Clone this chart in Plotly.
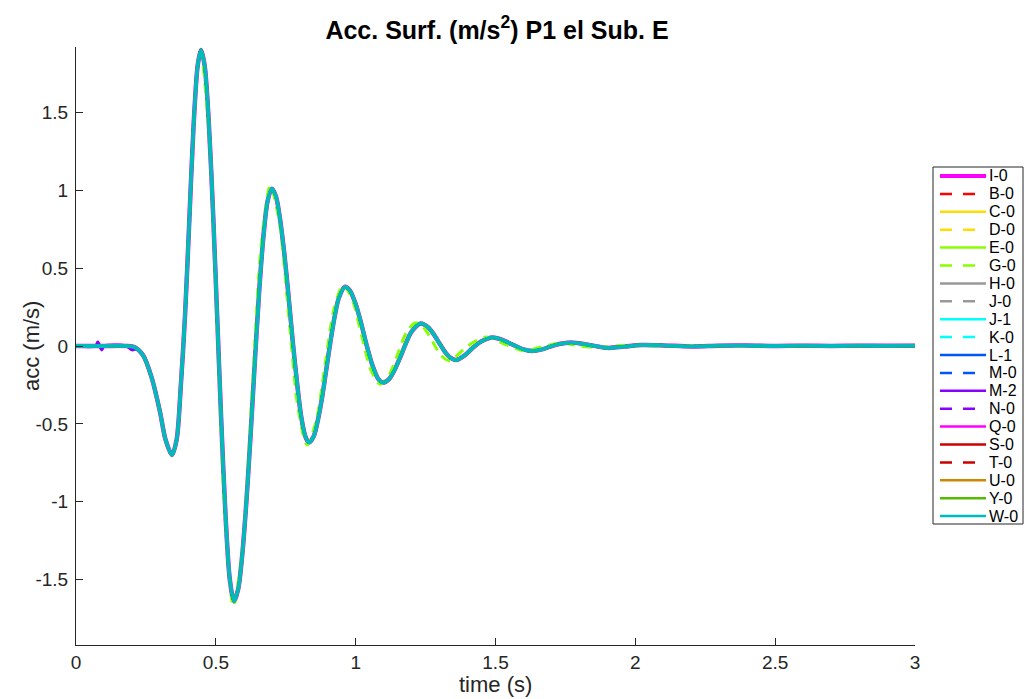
import plotly.graph_objects as go

# ---------------- data ----------------
t_main = [0.00, 0.10, 0.18, 0.21, 0.24, 0.27, 0.30, 0.32, 0.343, 0.36, 0.375, 0.39,
          0.405, 0.42, 0.435, 0.447, 0.46, 0.475, 0.49, 0.505, 0.52, 0.535, 0.55,
          0.565, 0.58, 0.595, 0.61, 0.625, 0.64, 0.655, 0.67, 0.685, 0.70, 0.715,
          0.73, 0.745, 0.76, 0.775, 0.79, 0.805, 0.82, 0.833, 0.85, 0.865, 0.88,
          0.895, 0.91, 0.925, 0.94, 0.962, 0.98, 1.00, 1.02, 1.04, 1.06, 1.08,
          1.098, 1.12, 1.14, 1.16, 1.18, 1.20, 1.233, 1.26, 1.28, 1.30, 1.32,
          1.34, 1.359, 1.39, 1.42, 1.45, 1.49, 1.52, 1.56, 1.60, 1.63, 1.67,
          1.71, 1.77, 1.83, 1.90, 1.96, 2.02, 2.10, 2.20, 2.30, 2.40, 2.50,
          2.60, 2.70, 2.80, 2.90, 3.00]
acc_main = [0.0, 0.0, 0.0, -0.008, -0.06, -0.20, -0.42, -0.60, -0.70, -0.60, -0.25, 0.20,
            0.80, 1.40, 1.80, 1.90, 1.80, 1.43, 0.86, 0.18, -0.51, -1.10, -1.50,
            -1.64, -1.56, -1.33, -0.98, -0.55, -0.085, 0.35, 0.70, 0.93, 1.01, 0.96,
            0.81, 0.59, 0.32, 0.03, -0.23, -0.45, -0.58, -0.62, -0.58, -0.475, -0.33,
            -0.15, 0.03, 0.19, 0.31, 0.38, 0.354, 0.269, 0.143, 0.0, -0.124, -0.209,
            -0.235, -0.211, -0.151, -0.069, 0.018, 0.092, 0.145, 0.119, 0.073, 0.016, -0.039,
            -0.077, -0.09, -0.06, -0.01, 0.03, 0.055, 0.042, 0.01, -0.022, -0.032, -0.02,
            0.005, 0.022, 0.008, -0.012, -0.004, 0.006, 0.004, -0.003, 0.002, 0.003, 0.0,
            0.002, 0.0, 0.002, 0.001, 0.002]

t_g0 = [0.00, 0.10, 0.18, 0.21, 0.24, 0.27, 0.30, 0.32, 0.343, 0.36, 0.375, 0.39,
        0.405, 0.42, 0.435, 0.446, 0.475, 0.5045, 0.534, 0.563, 0.596, 0.629, 0.662,
        0.695, 0.7278, 0.7605, 0.7933, 0.826, 0.8583, 0.8905, 0.9228, 0.955, 0.988,
        1.021, 1.054, 1.087, 1.119, 1.151, 1.183, 1.215, 1.245, 1.275, 1.305,
        1.335, 1.40, 1.465, 1.53, 1.60, 1.667, 1.735, 1.80, 1.87, 1.95, 2.05, 2.20,
        2.40, 2.60, 2.80, 3.00]
acc_g0 = [0.0, 0.0, 0.0, -0.008, -0.06, -0.20, -0.42, -0.60, -0.70, -0.60, -0.25, 0.20,
          0.80, 1.40, 1.80, 1.89, 1.37, 0.11, -1.15, -1.67, -1.28, -0.32, 0.64,
          1.03, 0.787, 0.198, -0.392, -0.635, -0.485, -0.12, 0.24, 0.39, 0.297,
          0.07, -0.152, -0.245, -0.187, -0.048, 0.092, 0.15, 0.114, 0.028, -0.059,
          -0.095, 0.0, 0.058, 0.014, -0.03, -0.005, 0.02, 0.0, -0.01, 0.004, 0.0, 0.003,
          0.0, 0.002, 0.0, 0.001]

# M-2 has two small glitches near the start before following the common record
t_m2_start = [0.00, 0.07, 0.078, 0.092, 0.10, 0.18, 0.20, 0.215]
acc_m2_start = [0.0, 0.0, 0.025, -0.025, 0.0, 0.0, -0.025, -0.02]

names = ["I-0", "B-0", "C-0", "D-0", "E-0", "G-0", "H-0", "J-0", "J-1", "K-0",
         "L-1", "M-0", "M-2", "N-0", "Q-0", "S-0", "T-0", "U-0", "Y-0", "W-0"]
colors = ["#FF00FF", "#FF0000", "#FFDD00", "#FFDD00", "#88FF00", "#88FF00",
          "#999999", "#999999", "#00FFFF", "#00FFFF", "#0055FF", "#0055FF",
          "#8800FF", "#8800FF", "#FF00FF", "#CC0000", "#CC0000", "#CC8800",
          "#55BB00", "#00BBBB"]
dashes = ["solid", "dash", "solid", "dash", "solid", "dash", "solid", "dash",
          "solid", "dash", "solid", "dash", "solid", "dash", "solid", "solid",
          "dash", "solid", "solid", "solid"]
widths = [4.5, 3, 3, 3, 3, 3, 3, 3, 3, 3, 3, 3, 3, 3, 3, 3, 3, 3, 3, 3.8]

x_ticks = [0, 0.5, 1, 1.5, 2, 2.5, 3]
x_tick_labels = ["0", "0.5", "1", "1.5", "2", "2.5", "3"]
y_ticks = [-1.5, -1, -0.5, 0, 0.5, 1, 1.5]
y_tick_labels = ["-1.5", "-1", "-0.5", "0", "0.5", "1", "1.5"]

FONT = "Liberation Sans, Arial, Helvetica, sans-serif"
AX = "#262626"

# plot-area geometry in pixels (for the paper-coordinate legend / labels)
W, H = 1025, 699
L, R, T, B = 76, 915, 47, 645


def px(x):
    return (x - L) / (R - L)


def py(y):
    return (B - y) / (B - T)


fig = go.Figure()
for name, col, dsh, w in zip(names, colors, dashes, widths):
    if name == "G-0":
        xs, ys = t_g0, acc_g0
    elif name == "M-2":
        k = t_main.index(0.24)
        xs = t_m2_start + t_main[k:]
        ys = acc_m2_start + acc_main[k:]
    else:
        xs, ys = t_main, acc_main
    fig.add_trace(go.Scatter(
        x=xs, y=ys, mode="lines", name=name, showlegend=False,
        line=dict(color=col, width=w, shape="spline", smoothing=0.8,
                  dash="10px,7px" if dsh == "dash" else "solid"),
    ))

# ---- legend box drawn like the MATLAB one ----
shapes = [dict(type="rect", xref="paper", yref="paper",
               x0=px(933), x1=px(1023), y0=py(524), y1=py(167),
               line=dict(color=AX, width=1), fillcolor="white", layer="above")]
annotations = []
for i, (name, col, dsh) in enumerate(zip(names, colors, dashes)):
    yc = 176 + i * 17.9
    lw = 4 if name == "I-0" else 2.5
    shapes.append(dict(type="line", xref="paper", yref="paper",
                       x0=px(940), x1=px(986), y0=py(yc), y1=py(yc),
                       line=dict(color=col, width=lw,
                                 dash="12px,11px" if dsh == "dash" else "solid"),
                       layer="above"))
    annotations.append(dict(text=name, xref="paper", yref="paper",
                            x=px(987), y=py(yc), xanchor="left", yanchor="middle",
                            showarrow=False,
                            font=dict(family=FONT, size=16, color="black")))

# axis titles placed like the reference
annotations.append(dict(text="acc (m/s)", xref="paper", yref="paper",
                        x=px(31), y=py(346), xanchor="center", yanchor="middle",
                        textangle=-90, showarrow=False,
                        font=dict(family=FONT, size=22, color=AX)))
annotations.append(dict(text="time (s)", xref="paper", yref="paper",
                        x=px(495), y=py(684), xanchor="center", yanchor="middle",
                        showarrow=False,
                        font=dict(family=FONT, size=22, color=AX)))

fig.update_layout(
    width=W, height=H,
    margin=dict(l=L, r=W - R, t=T, b=H - B),
    plot_bgcolor="white", paper_bgcolor="white",
    font=dict(family=FONT, color=AX),
    title=dict(text="<b>Acc. Surf. (m/s<sup>2</sup>) P1 el Sub. E</b>",
               x=497 / W, xanchor="center", y=1 - 30 / H, yanchor="middle",
               font=dict(family=FONT, size=25, color="black")),
    xaxis=dict(range=[0, 3], tickmode="array", tickvals=x_ticks, ticktext=x_tick_labels,
               ticks="inside", ticklen=7, tickwidth=1, tickcolor=AX,
               showline=True, linecolor=AX, linewidth=1, mirror=False,
               showgrid=False, zeroline=False,
               tickfont=dict(size=19, color=AX)),
    yaxis=dict(range=[-1.92, 1.92], tickmode="array", tickvals=y_ticks, ticktext=y_tick_labels,
               ticks="inside", ticklen=7, tickwidth=1, tickcolor=AX,
               showline=True, linecolor=AX, linewidth=1, mirror=False,
               showgrid=False, zeroline=False, ticklabelstandoff=3,
               tickfont=dict(size=19, color=AX)),
    shapes=shapes,
    annotations=annotations,
    showlegend=False,
)

fig.write_html("out.html")
